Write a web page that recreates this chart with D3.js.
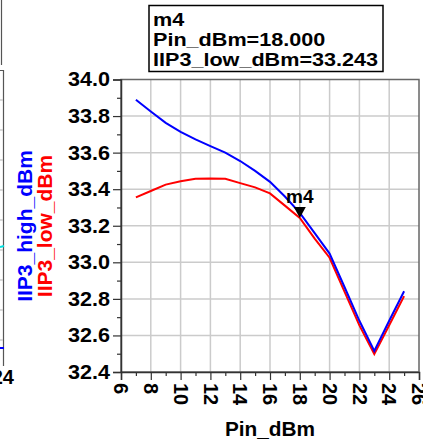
<!DOCTYPE html>
<html><head><meta charset="utf-8">
<script src="https://cdn.jsdelivr.net/npm/d3@7"></script>
<style>
html,body{margin:0;padding:0;background:#fff;}
svg{display:block;}
text{font-family:"Liberation Sans",Arial,sans-serif;font-weight:bold;}
</style></head>
<body><svg id="c" width="423" height="441"></svg>
<script>
const pinDbm = [7,8,9,10,11,12,13,14,15,16,17,18,19,20,21,22,23,24,25];
const iip3High = [33.889,33.825,33.763,33.714,33.672,33.636,33.60,33.554,33.50,33.44,33.36,33.27,33.16,33.048,32.865,32.68,32.515,32.68,32.842];
const iip3Low  = [33.355,33.39,33.425,33.443,33.457,33.458,33.457,33.433,33.41,33.377,33.31,33.243,33.13,33.025,32.84,32.655,32.498,32.656,32.815];
const xTicks = [6,8,10,12,14,16,18,20,22,24,26];
const yTicks = [32.4,32.6,32.8,33.0,33.2,33.4,33.6,33.8,34.0];
const markerName = "m4";
const markerX = 18.0;
const markerY = 33.243;

const svg = d3.select("#c");
const x = d3.scaleLinear().domain([6,26]).range([121,419]);
const y = d3.scaleLinear().domain([32.4,34.0]).range([372,79.5]);

// neighbour chart fragments at left edge
svg.append("line").attr("x1",1.5).attr("x2",1.5).attr("y1",0).attr("y2",65).attr("stroke","#555").attr("stroke-width",1.2);
svg.append("path").attr("d","M0,70.5H3.5V366").attr("fill","none").attr("stroke","#555").attr("stroke-width",1.2);
d3.range(100,350,30).forEach(v=>svg.append("line").attr("x1",0).attr("x2",3).attr("y1",v).attr("y2",v).attr("stroke","#ccc").attr("stroke-width",1.5));
svg.append("line").attr("x1",0).attr("x2",4).attr("y1",247).attr("y2",246).attr("stroke","#00e0e0").attr("stroke-width",2);
svg.append("line").attr("x1",0).attr("x2",4).attr("y1",348).attr("y2",348).attr("stroke","#0000ff").attr("stroke-width",2);
svg.append("text").attr("x",14).attr("y",384).attr("text-anchor","end").attr("font-size",20).text("24");

// grid
const g = svg.append("g");
g.selectAll(".gx").data(xTicks.slice(1,-1)).join("line")
  .attr("x1",d=>x(d)).attr("x2",d=>x(d)).attr("y1",y(34)).attr("y2",y(32.4))
  .attr("stroke","#cbcbcb").attr("stroke-width",1.5);
g.selectAll(".gy").data(yTicks.slice(1,-1)).join("line")
  .attr("x1",x(6)).attr("x2",x(26)).attr("y1",d=>y(d)).attr("y2",d=>y(d))
  .attr("stroke","#cbcbcb").attr("stroke-width",1.5);

// frame
svg.append("rect").attr("x",x(6)).attr("y",y(34)).attr("width",x(26)-x(6)).attr("height",y(32.4)-y(34))
  .attr("fill","none").attr("stroke","#666").attr("stroke-width",1.5);

// axes
const yAxis = d3.axisLeft(y).tickValues(yTicks).tickFormat(d3.format(".1f")).tickSize(8).tickPadding(3);
const ya = svg.append("g").attr("transform",`translate(${x(6)},0)`).call(yAxis);
ya.select(".domain").attr("stroke","#333").attr("stroke-width",1.5);
ya.selectAll(".tick line").attr("stroke","#333").attr("stroke-width",1.2);
ya.selectAll("text").attr("font-size",20).attr("fill","#000").attr("font-family","Liberation Sans, Arial, sans-serif").attr("font-weight","bold")
  .attr("x",0).attr("transform","translate(-11,0) scale(1.08,1)");
const yMinor = d3.axisLeft(y).tickValues(d3.range(32.5,34.0,0.2)).tickSize(4).tickFormat("");
const ym = svg.append("g").attr("transform",`translate(${x(6)},0)`).call(yMinor);
ym.select(".domain").remove();
ym.selectAll(".tick line").attr("stroke","#333").attr("stroke-width",1.2);

const xAxis = d3.axisBottom(x).tickValues(xTicks).tickFormat(d3.format("d")).tickSize(8);
const xa = svg.append("g").attr("transform",`translate(0,${y(32.4)})`).call(xAxis);
xa.select(".domain").attr("stroke","#333").attr("stroke-width",1.5);
xa.selectAll(".tick line").attr("stroke","#333").attr("stroke-width",1.2);
xa.selectAll("text").attr("font-size",20).attr("fill","#000")
  .attr("font-family","Liberation Sans, Arial, sans-serif").attr("font-weight","bold")
  .attr("text-anchor","start").attr("transform","rotate(90)")
  .attr("x",11).attr("y",0).attr("dy","0.36em");
const xMinor = d3.axisBottom(x).tickValues(d3.range(7,26,2)).tickSize(4).tickFormat("");
const xm = svg.append("g").attr("transform",`translate(0,${y(32.4)})`).call(xMinor);
xm.select(".domain").remove();
xm.selectAll(".tick line").attr("stroke","#333").attr("stroke-width",1.2);

// titles
svg.append("text").attr("transform",`translate(${(x(6)+x(26))/2},436) scale(1.04,1)`).attr("text-anchor","middle").attr("font-size",20).text("Pin_dBm");
svg.append("text").attr("transform","translate(31.5,226) rotate(-90)").attr("text-anchor","middle").attr("font-size",21).attr("fill","#0000ff").text("IIP3_high_dBm");
svg.append("text").attr("transform","translate(51.5,226) rotate(-90)").attr("text-anchor","middle").attr("font-size",21).attr("fill","#ff0000").text("IIP3_low_dBm");

// series
const line = d3.line().x((d,i)=>x(pinDbm[i])).y(d=>y(d));
svg.append("path").datum(iip3Low).attr("d",line).attr("fill","none").attr("stroke","#ff0000").attr("stroke-width",2);
svg.append("path").datum(iip3High).attr("d",line).attr("fill","none").attr("stroke","#0000ff").attr("stroke-width",2);

// marker
const mx = x(markerX), my = y(markerY);
svg.append("path").attr("d",`M${mx-6},${my-11}L${mx+6},${my-11}L${mx},${my}Z`).attr("fill","#000");
svg.append("text").attr("x",mx).attr("y",my-15).attr("text-anchor","middle").attr("font-size",19).text(markerName);

// marker readout box
svg.append("rect").attr("x",149).attr("y",5.5).attr("width",234).attr("height",66).attr("fill","#fff").attr("stroke","#000").attr("stroke-width",1.5);
const lines = [markerName, "Pin_dBm=" + markerX.toFixed(3), "IIP3_low_dBm=" + markerY.toFixed(3)];
lines.forEach((t,i)=>{
  svg.append("text").attr("transform",`translate(153,${26+i*20}) scale(1.2,1)`).attr("font-size",18).text(t);
});
</script></body></html>
